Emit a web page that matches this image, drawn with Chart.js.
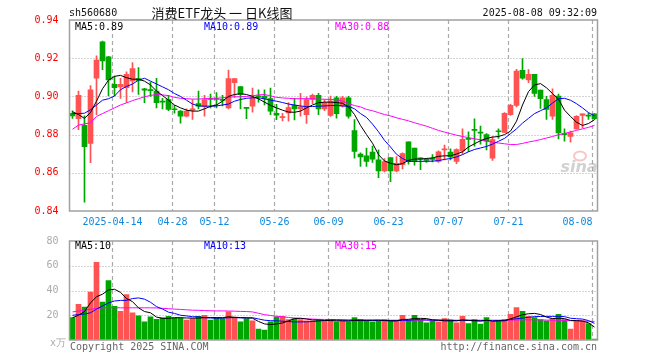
<!DOCTYPE html>
<html>
<head>
<meta charset="utf-8">
<script src="https://cdn.jsdelivr.net/npm/chart.js@4.4.1/dist/chart.umd.min.js"></script>
<style>
  html, body { margin: 0; padding: 0; background: #fff; }
  #wrap { position: relative; width: 660px; height: 360px; }
  #priceChart { position: absolute; left: 0; top: 0; }
  #volChart { position: absolute; left: 0; top: 232px; }
</style>
</head>
<body>
<div id="wrap">
  <canvas id="priceChart" width="660" height="232"></canvas>
  <canvas id="volChart" width="660" height="128"></canvas>
</div>
<script>
// trading days shown (2025)
const dates = [
  '04-02','04-03','04-07','04-08','04-09','04-10','04-11','04-14','04-15','04-16',
  '04-17','04-18','04-21','04-22','04-23','04-24','04-25','04-28','04-29','04-30',
  '05-06','05-07','05-08','05-09','05-12','05-13','05-14','05-15','05-16','05-19',
  '05-20','05-21','05-22','05-23','05-26','05-27','05-28','05-29','05-30','06-03',
  '06-04','06-05','06-06','06-09','06-10','06-11','06-12','06-13','06-16','06-17',
  '06-18','06-19','06-20','06-23','06-24','06-25','06-26','06-27','06-30','07-01',
  '07-02','07-03','07-04','07-07','07-08','07-09','07-10','07-11','07-14','07-15',
  '07-16','07-17','07-18','07-21','07-22','07-23','07-24','07-25','07-28','07-29',
  '07-30','07-31','08-01','08-04','08-05','08-06','08-07','08-08'
];
const tickDates = ['04-14','04-28','05-12','05-26','06-09','06-23','07-07','07-21','08-08'];

const opens = [
  0.8912,0.8884,0.8849,0.8754,0.9095,0.9286,0.9207,0.9063,0.9050,0.9046,
  0.9081,0.9093,0.9040,0.9035,0.9028,0.8975,0.8984,0.8935,0.8923,0.8896,
  0.8928,0.8963,0.8946,0.8988,0.8988,0.8982,0.8940,0.9072,0.9051,0.8940,
  0.8949,0.9000,0.9002,0.8988,0.8911,0.8888,0.8914,0.8953,0.8935,0.8905,
  0.8984,0.9005,0.8935,0.8900,0.8993,0.8949,0.8993,0.8821,0.8698,0.8689,
  0.8709,0.8668,0.8610,0.8680,0.8610,0.8642,0.8762,0.8730,0.8678,0.8668,
  0.8675,0.8660,0.8720,0.8709,0.8660,0.8714,0.8780,0.8826,0.8812,0.8800,
  0.8677,0.8818,0.8812,0.8905,0.8953,0.9137,0.9086,0.9116,0.9033,0.8984,
  0.8896,0.9002,0.8803,0.8791,0.8830,0.8900,0.8898,0.8909
];
const highs = [
  0.8925,0.9028,0.8898,0.9056,0.9212,0.9290,0.9210,0.9107,0.9095,0.9128,
  0.9177,0.9151,0.9042,0.9075,0.9095,0.8990,0.9005,0.8953,0.8926,0.8935,
  0.8984,0.9028,0.9005,0.9012,0.9020,0.9005,0.9138,0.9093,0.9051,0.8940,
  0.9044,0.9035,0.9035,0.9044,0.8958,0.8912,0.8967,0.8990,0.9016,0.8998,
  0.9012,0.9016,0.8984,0.9002,0.9000,0.9000,0.9000,0.8879,0.8705,0.8730,
  0.8740,0.8720,0.8675,0.8680,0.8685,0.8705,0.8762,0.8730,0.8678,0.8675,
  0.8695,0.8715,0.8745,0.8725,0.8725,0.8830,0.8815,0.8883,0.8845,0.8805,
  0.8790,0.8830,0.8915,0.8958,0.9142,0.9198,0.9140,0.9116,0.9033,0.9000,
  0.9040,0.9012,0.8830,0.8818,0.8900,0.8909,0.8914,0.8910
];
const lows = [
  0.8885,0.8826,0.8446,0.8653,0.8905,0.9140,0.9002,0.9002,0.8990,0.8968,
  0.9023,0.9010,0.8967,0.9000,0.8940,0.8935,0.8925,0.8912,0.8860,0.8892,
  0.8879,0.8935,0.8896,0.8940,0.8940,0.8950,0.8935,0.8995,0.8935,0.8883,
  0.8918,0.8970,0.8955,0.8905,0.8878,0.8872,0.8870,0.8877,0.8896,0.8858,
  0.8962,0.8905,0.8925,0.8895,0.8886,0.8943,0.8886,0.8677,0.8633,0.8633,
  0.8655,0.8574,0.8605,0.8554,0.8605,0.8620,0.8645,0.8640,0.8616,0.8655,
  0.8657,0.8655,0.8668,0.8667,0.8648,0.8697,0.8710,0.8739,0.8750,0.8720,
  0.8665,0.8780,0.8810,0.8900,0.8945,0.9090,0.9072,0.9000,0.8937,0.8879,
  0.8879,0.8777,0.8765,0.8761,0.8828,0.8835,0.8879,0.8880
];
const closes = [
  0.8898,0.9005,0.8737,0.9035,0.9190,0.9186,0.9086,0.9046,0.9063,0.9116,
  0.9146,0.9084,0.9033,0.9030,0.8967,0.8970,0.8932,0.8930,0.8896,0.8923,
  0.8935,0.8949,0.8984,0.8984,0.8984,0.8979,0.9093,0.9093,0.9010,0.8937,
  0.8993,0.8998,0.8990,0.8923,0.8902,0.8895,0.8941,0.8935,0.8946,0.8984,
  0.9005,0.8935,0.8967,0.8975,0.8910,0.8993,0.8896,0.8712,0.8683,0.8660,
  0.8672,0.8610,0.8659,0.8610,0.8650,0.8700,0.8660,0.8660,0.8672,0.8665,
  0.8670,0.8710,0.8725,0.8683,0.8721,0.8775,0.8775,0.8822,0.8808,0.8765,
  0.8774,0.8815,0.8911,0.8953,0.9133,0.9095,0.9116,0.9016,0.8988,0.8932,
  0.9005,0.8809,0.8800,0.8809,0.8896,0.8909,0.8897,0.8883
];

// moving averages as printed on the chart
const ma5 = [
  0.8920,0.8905,0.8885,0.8915,0.8975,0.9040,0.9085,0.9105,0.9110,0.9098,
  0.9090,0.9090,0.9080,0.9060,0.9028,0.9005,0.8980,0.8955,0.8940,0.8928,
  0.8923,0.8923,0.8935,0.8948,0.8955,0.8975,0.9000,0.9010,0.9014,0.9010,
  0.9000,0.8987,0.8970,0.8953,0.8940,0.8928,0.8918,0.8917,0.8923,0.8940,
  0.8955,0.8967,0.8970,0.8970,0.8968,0.8964,0.8945,0.8905,0.8848,0.8800,
  0.8755,0.8695,0.8662,0.8650,0.8642,0.8648,0.8665,0.8672,0.8672,0.8675,
  0.8678,0.8686,0.8689,0.8689,0.8698,0.8710,0.8735,0.8752,0.8768,0.8780,
  0.8787,0.8790,0.8800,0.8818,0.8870,0.8955,0.9025,0.9060,0.9067,0.9045,
  0.9015,0.8985,0.8928,0.8895,0.8865,0.8848,0.8858,0.8878
];
const ma10 = [
  0.8910,0.8910,0.8912,0.8930,0.8955,0.8980,0.8988,0.9002,0.9035,0.9052,
  0.9065,0.9085,0.9095,0.9080,0.9065,0.9050,0.9035,0.9015,0.9000,0.8980,
  0.8960,0.8950,0.8949,0.8949,0.8950,0.8955,0.8960,0.8975,0.8984,0.8990,
  0.8993,0.8993,0.8987,0.8980,0.8975,0.8968,0.8960,0.8955,0.8950,0.8946,
  0.8947,0.8949,0.8950,0.8952,0.8953,0.8950,0.8948,0.8935,0.8910,0.8890,
  0.8855,0.8815,0.8770,0.8735,0.8697,0.8675,0.8660,0.8660,0.8660,0.8660,
  0.8661,0.8664,0.8670,0.8675,0.8683,0.8695,0.8710,0.8722,0.8730,0.8738,
  0.8750,0.8765,0.8780,0.8805,0.8830,0.8860,0.8885,0.8910,0.8925,0.8940,
  0.8965,0.8988,0.8990,0.8980,0.8962,0.8940,0.8915,0.8898
];
const ma30 = [
  0.8828,0.8850,0.8856,0.8862,0.8895,0.8910,0.8925,0.8940,0.8955,0.8966,
  0.8978,0.8988,0.8998,0.9005,0.9010,0.9008,0.9004,0.8995,0.8990,0.8988,
  0.8986,0.8986,0.8988,0.8990,0.8990,0.8993,0.8995,0.8998,0.8998,0.9000,
  0.9003,0.9008,0.9010,0.9003,0.8995,0.8992,0.8990,0.8988,0.8988,0.8988,
  0.8988,0.8986,0.8985,0.8984,0.8982,0.8975,0.8962,0.8952,0.8945,0.8932,
  0.8925,0.8915,0.8905,0.8898,0.8888,0.8880,0.8872,0.8862,0.8853,0.8844,
  0.8833,0.8822,0.8813,0.8805,0.8797,0.8790,0.8784,0.8778,0.8773,0.8766,
  0.8761,0.8756,0.8752,0.8748,0.8748,0.8754,0.8761,0.8767,0.8774,0.8782,
  0.8790,0.8799,0.8806,0.8814,0.8822,0.8830,0.8838,0.8848
];

// volume, x万
const volumes = [
  18.1,28.8,26.7,38.7,62.7,30.7,48.0,27.2,23.2,36.8,
  21.9,19.5,14.7,18.7,16.8,17.9,19.2,18.0,18.0,16.0,
  17.3,19.2,20.0,16.0,18.0,17.3,22.7,18.0,14.7,17.3,
  15.5,8.8,8.0,14.7,18.7,19.2,16.5,17.3,16.5,15.5,
  15.5,16.0,15.5,16.0,14.7,15.5,14.7,18.1,16.5,15.5,
  14.7,15.5,16.5,15.5,15.5,20.0,16.0,20.0,16.0,13.9,
  15.5,14.7,17.3,16.0,13.9,19.2,13.3,16.5,12.8,18.1,
  14.7,15.5,16.5,20.8,26.1,23.2,19.2,18.1,16.5,15.5,
  17.3,20.8,16.5,8.8,15.5,15.5,13.3,0.8
];
const volMa5 = [
  18.0,20.0,23.0,30.0,35.0,37.0,40.5,41.0,38.5,33.5,
  31.0,26.0,23.0,22.0,18.5,17.5,17.5,18.0,18.0,17.8,
  17.7,17.7,18.1,18.1,18.1,18.0,18.8,18.4,18.1,18.0,
  17.6,15.0,13.0,12.5,13.0,13.8,15.4,17.3,17.6,17.0,
  16.2,16.2,15.8,15.7,15.5,15.5,15.3,15.8,15.9,16.0,
  16.0,16.1,15.7,15.5,15.5,16.6,16.7,17.4,17.5,17.3,
  16.3,16.0,15.5,15.5,15.5,16.2,15.9,15.8,15.2,16.0,
  15.1,15.5,15.5,17.1,18.7,20.4,21.2,21.5,20.6,18.5,
  17.3,17.6,17.3,15.8,15.7,15.3,13.9,10.4
];
const volMa10 = [
  20.0,20.5,21.0,22.0,25.0,27.5,30.0,31.5,32.0,32.0,
  33.5,34.0,33.0,30.5,27.0,25.0,22.5,21.5,20.0,19.5,
  18.8,18.8,18.0,17.8,17.6,17.7,18.0,18.1,17.9,17.8,
  18.0,17.0,16.0,15.6,15.5,15.2,14.9,14.6,14.6,14.7,
  14.9,15.3,15.8,16.3,16.2,16.1,15.9,16.2,16.0,15.8,
  15.8,15.8,15.9,15.6,15.6,15.9,15.9,16.4,16.5,16.2,
  16.1,16.0,16.1,16.0,15.6,15.9,15.8,15.5,15.6,15.8,
  15.6,15.7,15.9,16.6,17.2,17.7,18.3,18.9,19.0,19.1,
  19.1,19.1,18.9,17.6,17.2,16.9,15.7,13.4
];
const volMa30 = [
  22.7,23.4,24.1,24.8,25.5,26.0,26.1,26.1,26.0,26.0,
  26.0,26.0,26.0,26.0,25.9,25.6,25.3,25.0,24.7,24.4,
  24.1,24.0,23.8,23.6,23.5,23.5,23.4,23.3,23.1,23.0,
  22.7,21.6,20.5,19.8,19.2,18.7,18.2,17.8,17.4,17.1,
  16.9,16.7,16.6,16.5,16.4,16.3,16.2,16.1,16.0,16.0,
  16.0,16.0,16.0,16.0,16.0,16.0,16.0,16.0,16.0,16.0,
  16.0,16.0,16.0,16.0,16.0,16.0,16.0,16.0,16.0,16.0,
  16.0,16.0,16.0,16.1,16.2,16.3,16.3,16.3,16.2,16.1,
  16.0,15.9,15.8,15.6,15.4,15.3,15.1,15.0
];

const priceTicks = [0.84, 0.86, 0.88, 0.90, 0.92, 0.94];
const volTicks = [0, 20, 40, 60, 80];

const UP = '#ff5252';
const DOWN = '#00a600';
const MONO = '10px "DejaVu Sans Mono", monospace';
const GRID = '#aaaaaa';

const candleColors = opens.map((o, i) => (closes[i] >= o ? UP : DOWN));
const tickIdx = tickDates.map(d => dates.indexOf(d));
const last = a => a[a.length - 1];

// dotted horizontals, dashed verticals at the date ticks, frame
const panelGrid = {
  id: 'panelGrid',
  beforeDatasetsDraw(chart) {
    const { ctx, chartArea: a, scales: { x, y } } = chart;
    ctx.save();
    ctx.lineWidth = 1;
    ctx.strokeStyle = GRID;
    ctx.setLineDash([1, 2]);
    y.ticks.forEach(t => {
      const py = Math.round(y.getPixelForValue(t.value)) + 0.5;
      if (py <= a.top + 1 || py >= a.bottom - 1) return;
      ctx.beginPath();
      ctx.moveTo(a.left, py);
      ctx.lineTo(a.right, py);
      ctx.stroke();
    });
    ctx.setLineDash([4, 3]);
    ctx.lineWidth = 1.2;
    tickIdx.forEach(i => {
      const px = x.getPixelForValue(i) - 2;
      ctx.beginPath();
      ctx.moveTo(px, a.top);
      ctx.lineTo(px, a.bottom);
      ctx.stroke();
    });
    ctx.restore();
  },
  afterDatasetsDraw(chart) {
    const { ctx, chartArea: a } = chart;
    ctx.save();
    ctx.strokeStyle = '#a0a0a0';
    ctx.lineWidth = 1.5;
    ctx.strokeRect(a.left, a.top, a.right - a.left, a.bottom - a.top);
    ctx.restore();
  }
};

function text(ctx, s, x, y, color, align, font) {
  ctx.font = font || MONO;
  ctx.fillStyle = color;
  ctx.textAlign = align || 'left';
  ctx.textBaseline = 'middle';
  ctx.fillText(s, x, y);
}

const priceText = {
  id: 'priceText',
  afterDraw(chart) {
    const ctx = chart.ctx;
    ctx.save();
    text(ctx, 'sh560680', 69, 13, '#111');
    text(ctx, '消费ETF龙头 一 日K线图', 222, 13, '#111', 'center', '13px "Noto Sans CJK SC", sans-serif');
    text(ctx, '2025-08-08 09:32:09', 597, 13, '#111', 'right');
    text(ctx, 'MA5:' + last(ma5).toFixed(2), 75, 27, '#000');
    text(ctx, 'MA10:' + last(ma10).toFixed(2), 204, 27, '#0000ff');
    text(ctx, 'MA30:' + last(ma30).toFixed(2), 335, 27, '#ff00ff');
    // watermark
    ctx.globalAlpha = 0.45;
    ctx.strokeStyle = '#f08080';
    ctx.lineWidth = 2;
    ctx.beginPath();
    ctx.ellipse(580, 156, 6, 4.5, 0, 0, Math.PI * 2);
    ctx.stroke();
    text(ctx, 'sina', 579, 168, '#999', 'center', 'italic bold 16px "DejaVu Sans", sans-serif');
    ctx.restore();
  }
};

const volText = {
  id: 'volText',
  afterDraw(chart) {
    const ctx = chart.ctx;
    ctx.save();
    text(ctx, 'MA5:' + last(volMa5).toFixed(0), 75, 14, '#000');
    text(ctx, 'MA10:' + last(volMa10).toFixed(0), 204, 14, '#0000ff');
    text(ctx, 'MA30:' + last(volMa30).toFixed(0), 335, 14, '#ff00ff');
    text(ctx, 'x万', 66, 111, '#aaa', 'right');
    text(ctx, 'Copyright 2025 SINA.COM', 70, 115, '#666');
    text(ctx, 'http://finance.sina.com.cn', 597, 115, '#666', 'right');
    ctx.restore();
  }
};

function maLine(data, color) {
  return {
    type: 'line', data, borderColor: color, borderWidth: 1,
    pointRadius: 0, tension: 0, fill: false, order: 0
  };
}

const fixedWidth = s => { s.width = 69.5; };

new Chart(document.getElementById('priceChart'), {
  type: 'bar',
  data: {
    labels: dates,
    datasets: [
      maLine(ma5, '#000000'),
      maLine(ma10, '#0000ff'),
      maLine(ma30, '#ff00ff'),
      {
        data: opens.map((o, i) => [o, closes[i]]),
        backgroundColor: candleColors, borderWidth: 0,
        barThickness: 5, minBarLength: 1, grouped: false, order: 1
      },
      {
        data: lows.map((l, i) => [l, highs[i]]),
        backgroundColor: candleColors, borderWidth: 0,
        barThickness: 1, grouped: false, order: 2
      }
    ]
  },
  options: {
    responsive: false,
    animation: false,
    layout: { padding: { left: 0, right: 62.5, top: 20, bottom: 0 } },
    plugins: { legend: { display: false }, tooltip: { enabled: false } },
    scales: {
      x: {
        type: 'category', offset: true,
        grid: { display: false }, border: { display: false },
        afterFit: s => { s.height = 21; },
        ticks: {
          autoSkip: false, maxRotation: 0, padding: -3,
          color: '#1188dd', font: { family: '"DejaVu Sans Mono", monospace', size: 10 },
          labelOffset: -2,
          callback(v) {
            const d = dates[v];
            if (!tickDates.includes(d)) return null;
            if (d === tickDates[0]) return '2025-' + d;
            if (d === last(tickDates)) return d + '     ';
            return d;
          }
        }
      },
      y: {
        min: priceTicks[0], max: last(priceTicks),
        grid: { display: false }, border: { display: false },
        afterFit: fixedWidth,
        afterBuildTicks: s => { s.ticks = priceTicks.map(v => ({ value: v })); },
        ticks: {
          padding: 3, color: '#ff0000',
          font: { family: '"DejaVu Sans Mono", monospace', size: 10 },
          callback: v => Number(v).toFixed(2)
        }
      }
    }
  },
  plugins: [panelGrid, priceText]
});

new Chart(document.getElementById('volChart'), {
  type: 'bar',
  data: {
    labels: dates,
    datasets: [
      maLine(volMa5, '#000000'),
      maLine(volMa10, '#0000ff'),
      maLine(volMa30, '#ff00ff'),
      {
        data: volumes, backgroundColor: candleColors, borderWidth: 0,
        barThickness: 5, grouped: false, order: 1
      }
    ]
  },
  options: {
    responsive: false,
    animation: false,
    layout: { padding: { left: 0, right: 62.5, top: 8, bottom: 20 } },
    plugins: { legend: { display: false }, tooltip: { enabled: false } },
    scales: {
      x: { type: 'category', offset: true, display: false },
      y: {
        min: volTicks[0], max: last(volTicks),
        grid: { display: false }, border: { display: false },
        afterFit: fixedWidth,
        afterBuildTicks: s => { s.ticks = volTicks.map(v => ({ value: v })); },
        ticks: {
          padding: 3, color: '#aaaaaa',
          font: { family: '"DejaVu Sans Mono", monospace', size: 10 },
          callback: v => (v === 0 ? null : String(v))
        }
      }
    }
  },
  plugins: [panelGrid, volText]
});
</script>
</body>
</html>
